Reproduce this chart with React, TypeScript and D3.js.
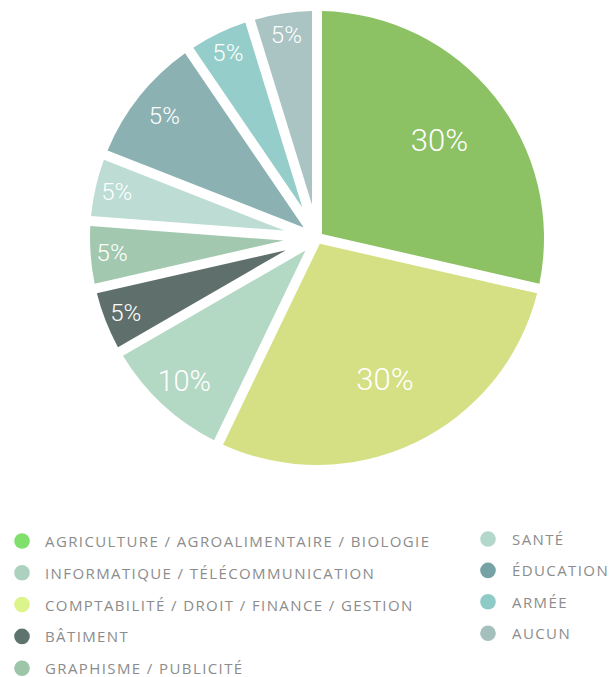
import React from "react";
import * as d3 from "d3";

const categories = [
  "AGRICULTURE / AGROALIMENTAIRE / BIOLOGIE",
  "COMPTABILITÉ / DROIT / FINANCE / GESTION",
  "INFORMATIQUE / TÉLÉCOMMUNICATION",
  "BÂTIMENT",
  "GRAPHISME / PUBLICITÉ",
  "SANTÉ",
  "ÉDUCATION",
  "ARMÉE",
  "AUCUN",
];
const counts = [6, 6, 2, 1, 1, 1, 2, 1, 1];
const percentLabels = ["30%", "30%", "10%", "5%", "5%", "5%", "5%", "5%", "5%"];
const sliceColors = ["#8cc164", "#d5e084", "#b3d8c4", "#5f706c", "#a2c9af", "#bcdcd4", "#8cb1b3", "#94cdc9", "#aac3c3"];

const legendLeft = [
  "AGRICULTURE / AGROALIMENTAIRE / BIOLOGIE",
  "INFORMATIQUE / TÉLÉCOMMUNICATION",
  "COMPTABILITÉ / DROIT / FINANCE / GESTION",
  "BÂTIMENT",
  "GRAPHISME / PUBLICITÉ",
];
const legendLeftColors = ["#7fe06c", "#acd2bf", "#dcf48c", "#5f736e", "#9dc5a7"];
const legendRight = ["SANTÉ", "ÉDUCATION", "ARMÉE", "AUCUN"];
const legendRightColors = ["#b3d7cb", "#76a2a5", "#8ecbc7", "#a3c0bc"];

const W = 611;
const H = 677;
const cx = 317;
const cy = 238;
const R = 227;
const halfGap = 5;

function slicePath(a0: number, a1: number) {
  const th = a1 - a0;
  const mid = (a0 + a1) / 2;
  const d = halfGap / Math.sin(th / 2);
  const da = Math.asin(halfGap / R);
  const s = a0 + da;
  const e = a1 - da;
  const p = d3.path();
  p.moveTo(d * Math.sin(mid), -d * Math.cos(mid));
  p.lineTo(R * Math.sin(s), -R * Math.cos(s));
  p.arc(0, 0, R, s - Math.PI / 2, e - Math.PI / 2, false);
  p.closePath();
  return p.toString();
}

export default function App() {
  const arcs = d3.pie<number>().value((d) => d).sort(null).startAngle(0).endAngle(2 * Math.PI)(counts);
  return (
    <svg width={W} height={H} style={{ position: "absolute", left: 0, top: 0, background: "#fff" }}>
      <g transform={`translate(${cx},${cy})`}>
        {arcs.map((a, i) => (
          <path key={i} d={slicePath(a.startAngle, a.endAngle)} fill={sliceColors[i]} />
        ))}
        {arcs.map((a, i) => {
          const span = a.endAngle - a.startAngle;
          const mid = (a.startAngle + a.endAngle) / 2;
          const lr = span > 1.5 ? R * 0.69 : span > 0.5 ? R * 0.86 : R * 0.905;
          const fs = span > 1.5 ? 31 : span > 0.5 ? (i === 2 ? 29 : 24) : 24;
          return (
            <text
              key={i}
              x={lr * Math.sin(mid)}
              y={-lr * Math.cos(mid)}
              textAnchor="middle"
              dominantBaseline="central"
              fill="#ffffff"
              fontFamily="Roboto, sans-serif"
              fontWeight={300}
              fontSize={fs}
            >
              {percentLabels[i]}
            </text>
          );
        })}
      </g>
      <g fontFamily="'Open Sans', sans-serif" fontSize={15} fill="#8c8c8c">
        {legendLeft.map((t, i) => (
          <g key={t} transform={`translate(0,${541 + i * 31.8})`}>
            <circle cx={22} cy={0} r={7.8} fill={legendLeftColors[i]} />
            <text x={45} y={0} dominantBaseline="central" letterSpacing={1.4}>
              {t}
            </text>
          </g>
        ))}
        {legendRight.map((t, i) => (
          <g key={t} transform={`translate(0,${539 + i * 31.4})`}>
            <circle cx={488} cy={0} r={7.8} fill={legendRightColors[i]} />
            <text x={512} y={0} dominantBaseline="central" letterSpacing={1.4}>
              {t}
            </text>
          </g>
        ))}
      </g>
    </svg>
  );
}
